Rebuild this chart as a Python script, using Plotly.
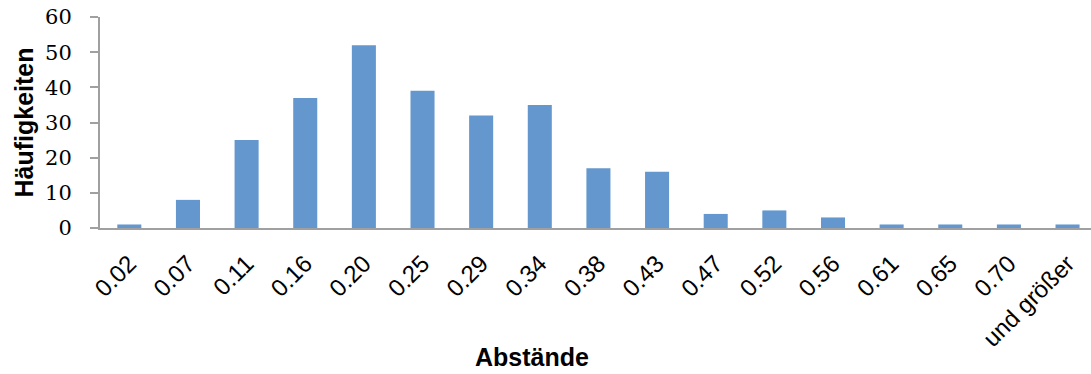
import plotly.graph_objects as go

categories = ["0.02", "0.07", "0.11", "0.16", "0.20", "0.25", "0.29", "0.34", "0.38",
              "0.43", "0.47", "0.52", "0.56", "0.61", "0.65", "0.70", "und größer"]
counts = [1, 8, 25, 37, 52, 39, 32, 35, 17, 16, 4, 5, 3, 1, 1, 1, 1]
y_ticks = [0, 10, 20, 30, 40, 50, 60]

fig = go.Figure(go.Bar(
    x=list(range(len(categories))), y=counts,
    marker=dict(color="#6497CD", line=dict(width=0)),
    width=0.41,
))

fig.update_layout(
    width=1091, height=374,
    margin=dict(l=100, r=0, t=17, b=146),
    plot_bgcolor="white", paper_bgcolor="white",
    showlegend=False,
    xaxis=dict(
        tickmode="array", tickvals=list(range(len(categories))), ticktext=categories,
        range=[-0.5, 16.4], tickangle=-45,
        tickfont=dict(family="Liberation Sans, Arial", size=24, color="black"),
        showline=True, linecolor="#A0A0A0", linewidth=2,
        showgrid=False, ticks="outside", ticklen=10, tickcolor="rgba(0,0,0,0)",
        zeroline=False,
    ),
    yaxis=dict(
        range=[0, 60], tickvals=y_ticks,
        tickfont=dict(family="DejaVu Serif", size=21, color="black"),
        showline=True, linecolor="#A0A0A0", linewidth=2,
        ticks="outside", ticklen=8, tickcolor="#A0A0A0", tickwidth=2,
        ticklabelstandoff=14,
        showgrid=False, zeroline=False,
    ),
    annotations=[
        dict(text="<b>Abstände</b>", xref="paper", yref="paper",
             x=(532 - 100) / 991, y=(228 - 357) / 211, xanchor="center", yanchor="middle",
             showarrow=False, font=dict(family="Liberation Sans, Arial", size=25, color="black")),
        dict(text="<b>Häufigkeiten</b>", xref="paper", yref="paper",
             x=(23 - 100) / 991, y=0.5, xanchor="center", yanchor="middle", textangle=-90,
             showarrow=False, font=dict(family="Liberation Sans, Arial", size=25, color="black")),
    ],
)

fig.write_html("out.html")
